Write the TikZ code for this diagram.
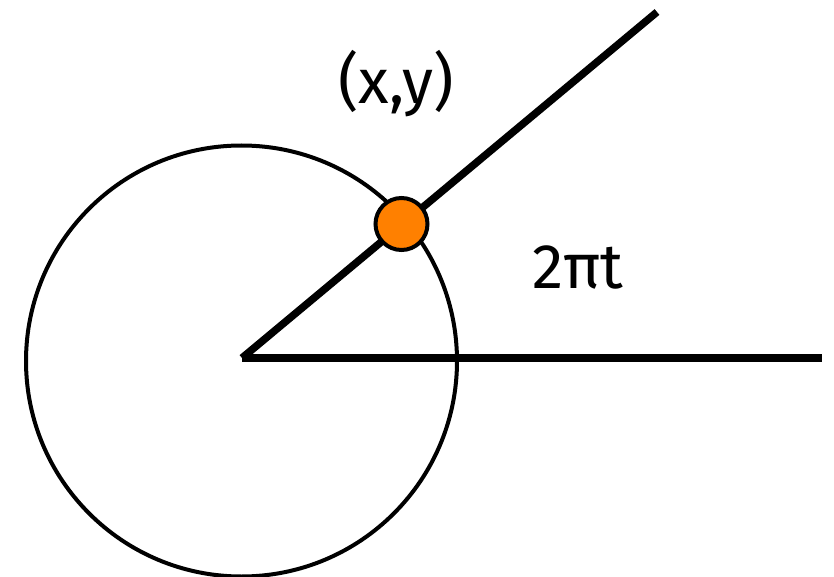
\documentclass[tikz,border=0pt]{standalone}
\usepackage{fontspec}
\setmainfont{Fira Sans}
\definecolor{dotorange}{HTML}{FF8000}
\tikzset{
  ray/.style={line width=7.5pt, line cap=butt},
  rim/.style={line width=4pt},
  pointdot/.style={circle, draw=black, line width=4pt, fill=dotorange, minimum size=52pt, inner sep=0pt},
  lbl/.style={font=\fontsize{63}{72}\selectfont, anchor=base, inner sep=0pt}
}
\begin{document}
\begin{tikzpicture}[x=1pt,y=-1pt]
\useasboundingbox (0,0) rectangle (834,577);
\coordinate (O) at (242,358);
\coordinate (C) at (241.5,361);
\coordinate (Hend) at (822,358);
\coordinate (Dend) at (657,12);
\draw[rim] (C) circle (215.5);
\draw[ray] (O) -- (Hend);
\draw[ray] (O) -- (Dend);
\node[pointdot] (P) at (401.5,224) {};
\node[lbl] (xy) at (396,104) {(x,y)};
\node[lbl] (ang) at (578,288) {2πt};
\end{tikzpicture}
\end{document}
